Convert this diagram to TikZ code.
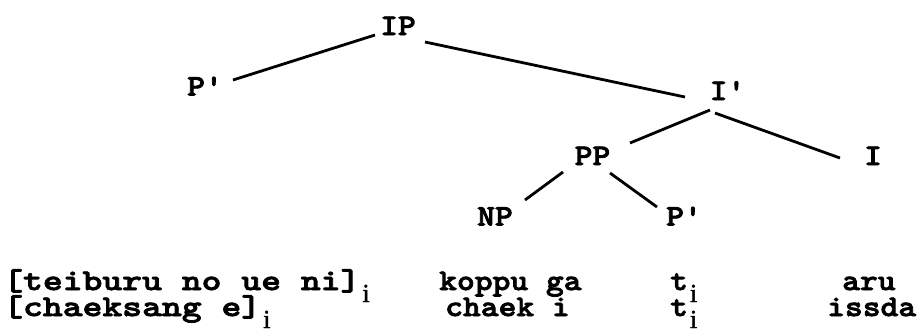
\documentclass[tikz,border=0pt]{standalone}
\usepackage{fontspec}
% heavy slab-serif typewriter face, widened to a printer-like pitch
\newfontfamily\cour{lmmonolt10-bold.otf}[FakeStretch=1.13, FakeBold=2.5]
% the bracketed phrases are typed at a slightly wider pitch
\newfontfamily\courwide{lmmonolt10-bold.otf}[FakeStretch=1.26, FakeBold=2.5]
\newfontfamily\idxfont{Liberation Serif}[FakeBold=1.5]
% index subscript: an upright serif i set low beside the word
\newcommand{\trsub}{\kern2pt\raisebox{-12pt}{\fontsize{26}{26}\selectfont\idxfont i}}
\tikzset{
  lab/.style={inner sep=0pt, font=\fontsize{30}{30}\selectfont\cour,
              text height=17pt, text depth=0pt},
  word/.style={inner sep=0pt, anchor=base west,
               font=\fontsize{30}{30}\selectfont\cour},
  phrase/.style={word, font=\fontsize{30}{30}\selectfont\courwide},
  branch/.style={line width=2.8pt}
}
\begin{document}
\begin{tikzpicture}[x=1pt,y=-1pt]
\useasboundingbox (0,0) rectangle (921,333);
% tree labels
\node[lab] (IP)  at (398,26.5)  {IP};
\node[lab] (Pa)  at (205,87)    {P'};
\node[lab] (Ib)  at (727.5,91.5){I'};
\node[lab] (PP)  at (592.5,156.5){PP};
\node[lab] (I)   at (873,156.5) {I};
\node[lab] (NP)  at (495,217)   {NP};
\node[lab] (Pb)  at (684,217)   {P'};
% branches
\draw[branch] ([shift={(-23,8.5)}]IP.center)   -- ([shift={(28,-7)}]Pa.center);
\draw[branch] ([shift={(27,15.5)}]IP.center)   -- ([shift={(-42.5,5.5)}]Ib.center);
\draw[branch] ([shift={(-17.5,18.5)}]Ib.center) -- ([shift={(37.5,-13.5)}]PP.center);
\draw[branch] ([shift={(-12.5,21.5)}]Ib.center) -- ([shift={(-33,1.5)}]I.center);
\draw[branch] ([shift={(-29.5,15.5)}]PP.center) -- ([shift={(30,-17)}]NP.center);
\draw[branch] ([shift={(17.5,16.5)}]PP.center)  -- ([shift={(-27,-10)}]Pb.center);
% first gloss line
\node[phrase] (w1) at (3,290)   {[teiburu no ue ni]\trsub};
\node[word]   (w2) at (439,290) {koppu ga};
\node[word]   (w3) at (670,290) {t\trsub};
\node[word]   (w4) at (842,290) {aru};
% second gloss line
\node[phrase] (v1) at (3,316)   {[chaeksang e]\trsub};
\node[word]   (v2) at (445,316) {chaek i};
\node[word]   (v3) at (670,316) {t\trsub};
\node[word]   (v4) at (827,316) {issda};
\end{tikzpicture}
\end{document}
